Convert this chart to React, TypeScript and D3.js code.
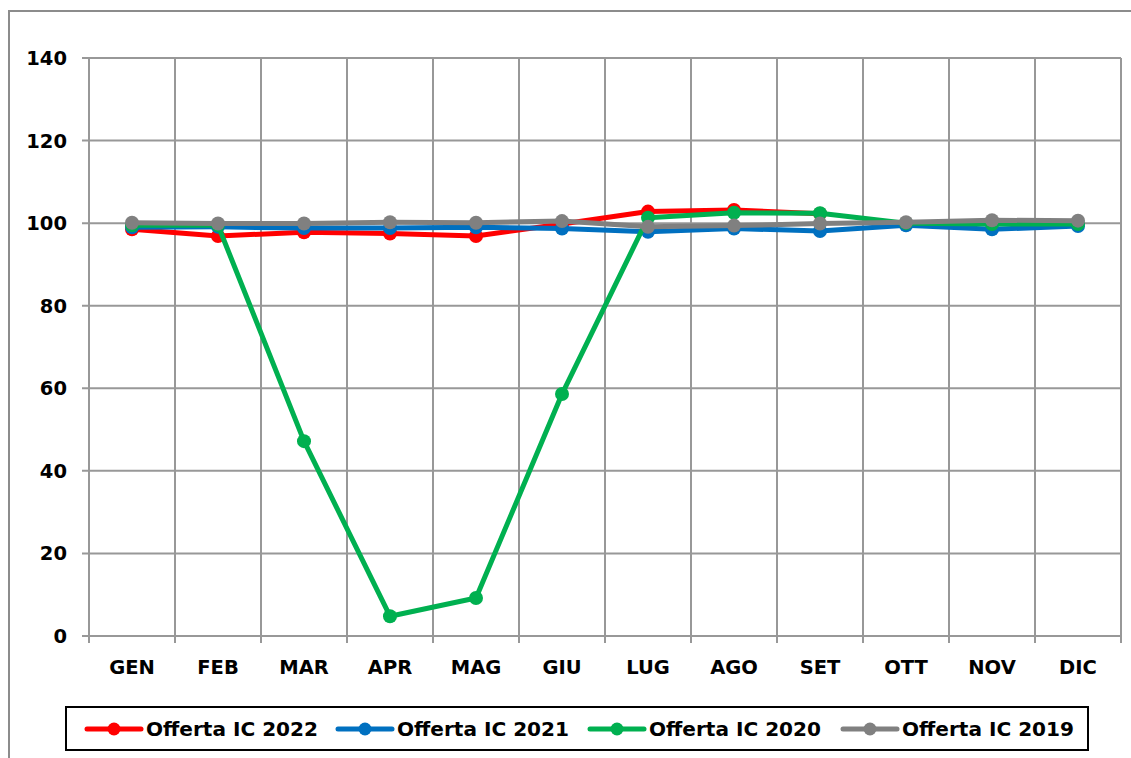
import * as d3 from "d3";

const months = ["GEN", "FEB", "MAR", "APR", "MAG", "GIU", "LUG", "AGO", "SET", "OTT", "NOV", "DIC"];
const yTicks = [0, 20, 40, 60, 80, 100, 120, 140];

const offerta2022 = [98.5, 96.9, 97.8, 97.5, 96.9, 99.8, 102.8, 103.2, 102.3];
const offerta2021 = [99.0, 99.1, 98.8, 98.8, 99.0, 98.7, 97.9, 98.7, 98.1, 99.5, 98.5, 99.3];
const offerta2020 = [99.5, 99.5, 47.2, 4.8, 9.2, 58.6, 101.3, 102.5, 102.4, 100.0, 99.8, 99.8];
const offerta2019 = [100.1, 99.9, 99.9, 100.2, 100.1, 100.5, 99.1, 99.4, 99.9, 100.2, 100.7, 100.6];

const series = [
  { name: "Offerta IC 2022", color: "#ff0000", values: offerta2022 },
  { name: "Offerta IC 2021", color: "#0070c0", values: offerta2021 },
  { name: "Offerta IC 2020", color: "#00b050", values: offerta2020 },
  { name: "Offerta IC 2019", color: "#808080", values: offerta2019 },
];

const width = 1131;
const height = 758;
const left = 89;
const right = 1121;
const top = 58;
const bottom = 636;
const font = "'DejaVu Sans', Verdana, sans-serif";

export default function App() {
  const x = d3.scaleBand().domain(months).range([left, right]);
  const y = d3.scaleLinear().domain([0, 140]).range([bottom, top]);
  const cx = (m: string) => (x(m) ?? 0) + x.bandwidth() / 2;
  const line = d3
    .line<number>()
    .x((_, i) => cx(months[i]))
    .y((d) => y(d));

  const legendX = [87, 338, 590, 843];

  return (
    <svg
      width={width}
      height={height}
      style={{ position: "absolute", left: 0, top: 0, background: "#fff" }}
    >
      <rect x={9} y={11} width={1140} height={760} fill="#fff" stroke="#8c8c8c" strokeWidth={2} />
      {/* grid */}
      {yTicks.map((t) => (
        <g key={t}>
          <line x1={left - 7} x2={right} y1={y(t)} y2={y(t)} stroke="#989898" strokeWidth={2} />
          <text
            x={67}
            y={y(t) + 7}
            textAnchor="end"
            fontFamily={font}
            fontWeight="bold"
            fontSize={19.5}
          >
            {t}
          </text>
        </g>
      ))}
      {[...months.map((m) => x(m) ?? 0), right].map((v, i) => (
        <line key={i} x1={v} x2={v} y1={top} y2={bottom + 7} stroke="#989898" strokeWidth={2} />
      ))}
      {months.map((m) => (
        <text
          key={m}
          x={cx(m)}
          y={674}
          textAnchor="middle"
          fontFamily={font}
          fontWeight="bold"
          fontSize={19.5}
        >
          {m}
        </text>
      ))}
      {/* lines */}
      {series.map((s) => (
        <g key={s.name}>
          <path d={line(s.values) ?? ""} fill="none" stroke={s.color} strokeWidth={5} strokeLinejoin="round" />
          {s.values.map((v, i) => (
            <circle key={i} cx={cx(months[i])} cy={y(v)} r={7} fill={s.color} />
          ))}
        </g>
      ))}
      {/* legend */}
      <rect x={66} y={707} width={1022} height={43} fill="#fff" stroke="#000" strokeWidth={2} />
      {series.map((s, i) => (
        <g key={s.name}>
          <line x1={legendX[i]} x2={legendX[i] + 54} y1={729} y2={729} stroke={s.color} strokeWidth={5} strokeLinecap="round" />
          <circle cx={legendX[i] + 27} cy={729} r={6.5} fill={s.color} />
          <text
            x={legendX[i] + 59}
            y={736}
            fontFamily={font}
            fontWeight="bold"
            fontSize={20}
            textLength={172}
            lengthAdjust="spacingAndGlyphs"
          >
            {s.name}
          </text>
        </g>
      ))}
    </svg>
  );
}
